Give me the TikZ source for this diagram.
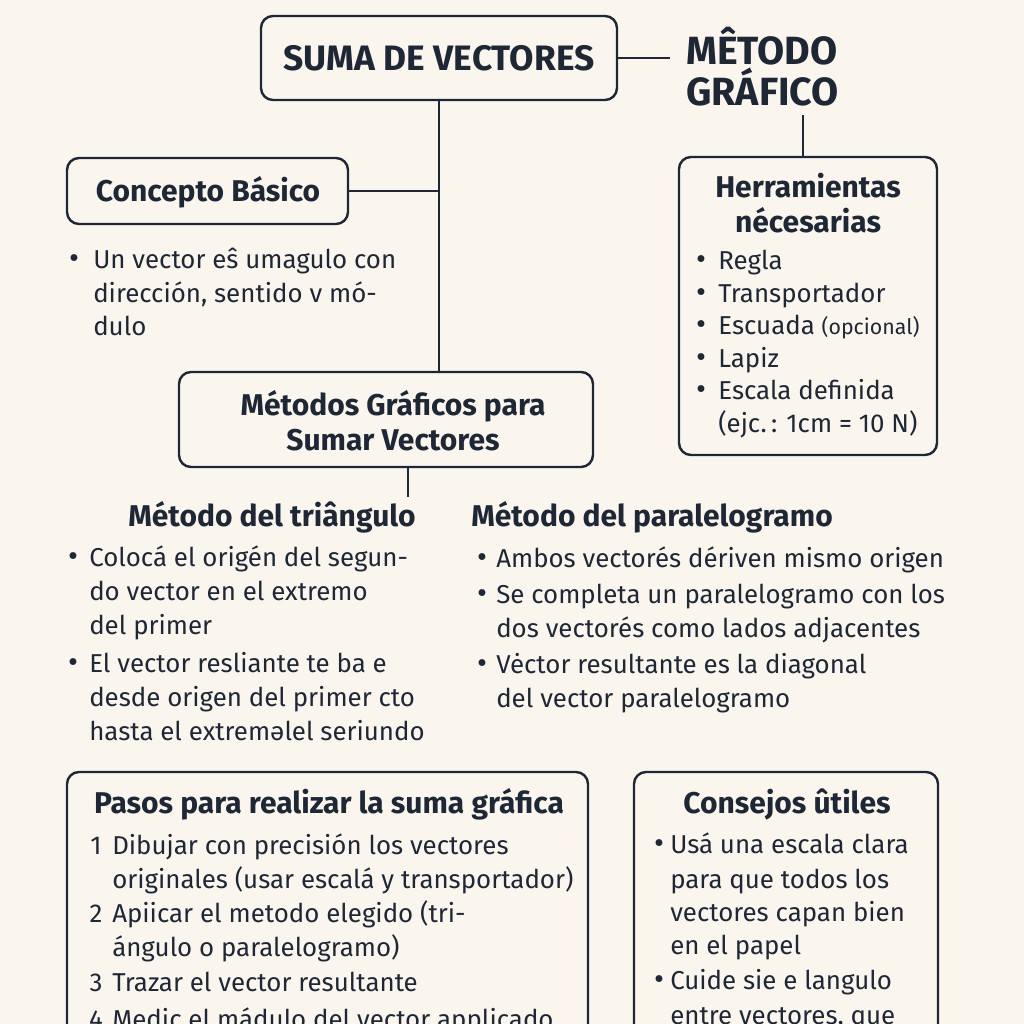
\documentclass[tikz,border=0pt]{standalone}
\usepackage{fontspec}
\setmainfont{Fira Sans}
\usetikzlibrary{positioning}
\definecolor{paper}{HTML}{FAF6EE}
\definecolor{ink}{HTML}{1E2735}
\begin{document}
\begin{tikzpicture}[
x=0.75pt,
y=-0.75pt,
box/.style={
  draw=ink,
  line width=1.8pt,
  rounded corners=9pt,
  fill=paper,
  inner sep=0pt
  },
link/.style={
  draw=ink,
  line width=1.4pt
  },
head/.style={
  text=ink,
  inner sep=0pt,
  anchor=base,
  font=\fontsize{22.5}{28}\selectfont\bfseries
  },
txt/.style={
  text=ink,
  inner sep=0pt,
  anchor=base west,
  font=\fontsize{19.4}{25}\selectfont
  },
dot/.style={
  txt,
  anchor=base,
  font=\fontsize{23}{25}\selectfont
  }
]
\useasboundingbox[fill=paper] (0,0) rectangle (1024,1024);
\clip (0,0) rectangle (1024,1024);

% main boxes
\node[box, minimum width=267pt, minimum height=63pt] (suma) at (439,58) {};
\node[head, font=\fontsize{26.5}{30}\selectfont\bfseries] (suma-t) at (439,71) {SUMA DE VECTORES};
\node[head, anchor=west, align=left, inner xsep=12pt, inner ysep=6pt, font=\fontsize{29.5}{31}\selectfont\bfseries] (metgraf) at (670,67) {MÊTODO\\GRÁFICO};
\node[box, minimum width=210.75pt, minimum height=49.5pt] (concepto) at (207.5,191) {};
\node[head] (concepto-t) at (208,201) {Concepto Básico};
\node[box, minimum width=193.5pt, minimum height=223.5pt] (herr) at (808,306) {};
\node[box, minimum width=310.5pt, minimum height=71.25pt] (metodos) at (386,419.5) {};
\node[head] (metodos-t1) at (393,415) {Métodos Gráficos para};
\node[head] (metodos-t2) at (393,450) {Sumar Vectores};
\node[box, minimum width=390.75pt, minimum height=216pt] (pasos) at (327.5,916) {};
\node[box, minimum width=228pt, minimum height=216pt] (consejos) at (786,916) {};

% connectors
\coordinate (split) at (408,497);
\draw[link] (suma.south) -- (suma.south |- metodos.north);
\draw[link] (concepto.east) -- (concepto.east -| suma.south);
\draw[link] (suma.east) -- (suma.east -| metgraf.west);
\draw[link] (herr.north -| 803,0) -- (metgraf.south -| 803,0);
\draw[link] (metodos.south -| split) -- (split);

% concepto basico
\node[dot] (con-b) at (74,268) {•};
\foreach \yy/\t [count=\i] in {268/{Un vector eŝ umagulo con},302/{dirección, sentido v mó-},335/{dulo}}
  \node[txt] (con-\i) at (93,\yy) {\t};

% herramientas
\node[head] (herr-t1) at (808,197) {Herramientas};
\node[head] (herr-t2) at (808,232) {nécesarias};
\foreach \yy in {269,302,334,367,399}
  \node[dot] (herr-b\yy) at (701,\yy) {•};
\foreach \yy/\t [count=\i] in {269/{Regla},302/{Transportador},334/{Escuada {\fontsize{16}{20}\selectfont(opcional)}},367/{Lapiz},399/{Escala definida},432/{(ejc.\,: 1cm = 10 N)}}
  \node[txt] (herr-\i) at (718,\yy) {\t};

% metodo del triangulo
\node[head] (tri-t) at (272,526) {Método del triângulo};
\foreach \yy in {566,672}
  \node[dot] (tri-b\yy) at (73,\yy) {•};
\foreach \yy/\t [count=\i] in {566/{Colocá el origén del segun-},600/{do vector en el extremo},634/{del primer},672/{El vector resliante te ba e},706/{desde origen del primer cto},740/{hasta el extreməlel seriundo}}
  \node[txt] (tri-\i) at (89,\yy) {\t};

% metodo del paralelogramo
\node[head, anchor=base west] (par-t) at (471,526) {Método del paralelogramo};
\foreach \yy in {567,603,673}
  \node[dot] (par-b\yy) at (482,\yy) {•};
\foreach \yy/\t [count=\i] in {567/{Ambos vectorés dériven mismo origen},603/{Se completa un paralelogramo con los},637/{dos vectorés como lados adjacentes},673/{Vėctor resultante es la diagonal},707/{del vector paralelogramo}}
  \node[txt] (par-\i) at (496,\yy) {\t};

% pasos
\node[head] (pasos-t) at (329,813) {Pasos para realizar la suma gráfica};
\foreach \yy/\n in {854/1,922/2,991/3,1028/4}
  \node[txt, anchor=base] (pasos-n\n) at (96,\yy) {\n};
\foreach \yy/\t [count=\i] in {854/{Dibujar con precisión los vectores},888/{originales (usar escalá y transportador)},922/{Apiicar el metodo elegido (tri-},956/{ángulo o paralelogramo)},991/{Trazar el vector resultante},1028/{Medic el mádulo del vector applicado}}
  \node[txt] (pasos-\i) at (112,\yy) {\t};

% consejos
\node[head] (cons-t) at (787,813) {Consejos ûtiles};
\foreach \yy in {853,989}
  \node[dot] (cons-b\yy) at (659,\yy) {•};
\foreach \yy/\t [count=\i] in {853/{Usá una escala clara},888/{para que todos los},921/{vectores capan bien},954/{en el papel},989/{Cuide sie e langulo},1024/{entre vectores, que}}
  \node[txt] (cons-\i) at (670,\yy) {\t};

\end{tikzpicture}
\end{document}
